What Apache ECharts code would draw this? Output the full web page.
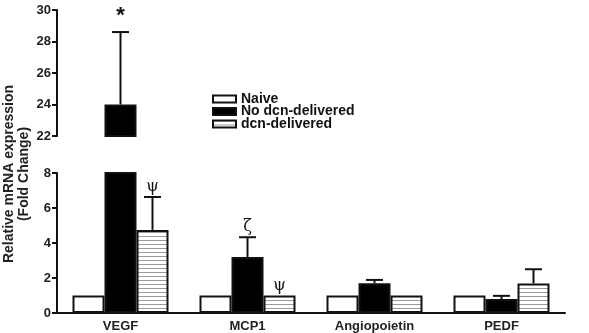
<!DOCTYPE html>
<html>
<head>
<meta charset="utf-8">
<script src="https://cdn.jsdelivr.net/npm/echarts@6/dist/echarts.min.js"></script>
<style>
  html, body { margin: 0; padding: 0; background: #fff; }
  #chart { width: 589px; height: 333px; }
</style>
</head>
<body>
<div id="chart"></div>
<script>
// data
const categories = ['VEGF', 'MCP1', 'Angiopoietin', 'PEDF']
const seriesNames = ['Naive', 'No dcn-delivered', 'dcn-delivered']
const naive = [1, 1, 1, 1]
const noDcn = [24, 3.2, 1.7, 0.8]
const noDcnErr = [4.6, 1.13, 0.19, 0.18]
const dcn = [4.75, 1.0, 1.0, 1.69]
const dcnErr = [1.88, 0, 0, 0.81]
const noDcnSig = ['*', 'ζ', '', '']
const dcnSig = ['ψ', 'ψ', '', '']
const lowTicks = [0, 8, 2]   // min, max, interval
const highTicks = [22, 30, 2]

const FONT = 'Liberation Sans, Arial, sans-serif'
const BAR_W = 32

// horizontal stripes for the dcn-delivered bars
const stripe = document.createElement('canvas')
stripe.width = 4
stripe.height = 4
const sctx = stripe.getContext('2d')
sctx.fillStyle = '#fff'
sctx.fillRect(0, 0, 4, 4)
sctx.fillStyle = '#9a9a9a'
sctx.fillRect(0, 0, 4, 1)

const chart = echarts.init(document.getElementById('chart'))

// error bar + significance mark, drawn from [catIndex, value, err, sig, barIndex]
const errorItem = (params, api) => {
  const x = api.value(0)
  const val = api.value(1)
  const err = api.value(2)
  const sig = api.value(3)
  const slot = api.value(4) - 1
  const base = api.coord([x, val])
  const cx = base[0] + slot * BAR_W
  const children = []
  let topY = base[1]
  if (err > 0) {
    const top = api.coord([x, val + err])
    topY = top[1]
    children.push({
      type: 'line',
      shape: { x1: cx, y1: base[1], x2: cx, y2: top[1] },
      style: { stroke: '#111', lineWidth: 2 }
    })
    children.push({
      type: 'line',
      shape: { x1: cx - 8.5, y1: top[1], x2: cx + 8.5, y2: top[1] },
      style: { stroke: '#111', lineWidth: 2 }
    })
  }
  if (sig) {
    const isStar = sig === '*'
    children.push({
      type: 'text',
      x: cx,
      y: topY - (isStar ? 16 : 10),
      style: {
        text: sig,
        align: 'center',
        verticalAlign: 'middle',
        font: isStar ? 'bold 22px ' + FONT : '16px DejaVu Serif, serif',
        fill: '#111'
      }
    })
  }
  return { type: 'group', children }
}

const lowErr = []
const highErr = []
categories.forEach((c, i) => {
  const a = [i, noDcn[i], noDcnErr[i], noDcnSig[i], 1]
  if (noDcn[i] > lowTicks[1]) highErr.push(a)
  else lowErr.push(a)
  lowErr.push([i, dcn[i], dcnErr[i], dcnSig[i], 2])
})

const yAxisBase = (grid, t) => ({
  type: 'value',
  gridIndex: grid,
  min: t[0],
  max: t[1],
  interval: t[2],
  axisLine: { show: true, lineStyle: { color: '#111', width: 2 } },
  axisTick: { show: true, length: 5, lineStyle: { color: '#111', width: 2 } },
  axisLabel: { color: '#222', fontWeight: 'bold', fontSize: 13, fontFamily: FONT, margin: 6 },
  splitLine: { show: false }
})

const barBorder = { borderColor: '#111', borderWidth: 2 }

// one legend per row so the rows can sit as tight as in the figure
const legendRow = (name, i) => ({
  left: 212,
  top: 92 + i * 12.5,
  padding: 0,
  itemWidth: 23,
  itemHeight: 7,
  icon: 'rect',
  data: [name],
  textStyle: { color: '#111', fontWeight: 'bold', fontSize: 14, lineHeight: 12, fontFamily: FONT }
})

const option = {
  animation: false,
  backgroundColor: '#fff',
  grid: [
    { left: 57, top: 10, width: 508, height: 126 },
    { left: 57, top: 173, width: 508, height: 141 }
  ],
  xAxis: [
    { type: 'category', gridIndex: 0, data: categories, show: false },
    {
      type: 'category',
      gridIndex: 1,
      data: categories,
      axisLine: { lineStyle: { color: '#111', width: 2 } },
      axisTick: { show: false },
      axisLabel: { color: '#222', fontWeight: 'bold', fontSize: 13, fontFamily: FONT, margin: 7 }
    }
  ],
  yAxis: [yAxisBase(0, highTicks), yAxisBase(1, lowTicks)],
  legend: seriesNames.map(legendRow),
  graphic: [{
    type: 'text',
    x: 17,
    y: 174,
    rotation: Math.PI / 2,
    style: {
      text: 'Relative mRNA expression\n(Fold Change)',
      align: 'center',
      verticalAlign: 'middle',
      lineHeight: 15,
      font: 'bold 14px ' + FONT,
      fill: '#222'
    }
  }],
  series: [
    {
      name: seriesNames[0], type: 'bar', xAxisIndex: 1, yAxisIndex: 1,
      barWidth: BAR_W, barGap: '0%', data: naive,
      itemStyle: Object.assign({ color: '#fff' }, barBorder)
    },
    {
      name: seriesNames[1], type: 'bar', xAxisIndex: 1, yAxisIndex: 1,
      barWidth: BAR_W, barGap: '0%', data: noDcn,
      itemStyle: Object.assign({ color: '#000' }, barBorder)
    },
    {
      name: seriesNames[2], type: 'bar', xAxisIndex: 1, yAxisIndex: 1,
      barWidth: BAR_W, barGap: '0%', data: dcn,
      itemStyle: Object.assign({ color: { image: stripe, repeat: 'repeat' } }, barBorder)
    },
    {
      name: seriesNames[1], type: 'bar', xAxisIndex: 0, yAxisIndex: 0,
      barWidth: BAR_W,
      data: noDcn.map(v => (v > lowTicks[1] ? v : '-')),
      itemStyle: Object.assign({ color: '#000' }, barBorder)
    },
    {
      type: 'custom', xAxisIndex: 1, yAxisIndex: 1, z: 5,
      renderItem: errorItem, data: lowErr
    },
    {
      type: 'custom', xAxisIndex: 0, yAxisIndex: 0, z: 5, clip: false,
      renderItem: errorItem, data: highErr
    }
  ]
}

chart.setOption(option)
</script>
</body>
</html>
